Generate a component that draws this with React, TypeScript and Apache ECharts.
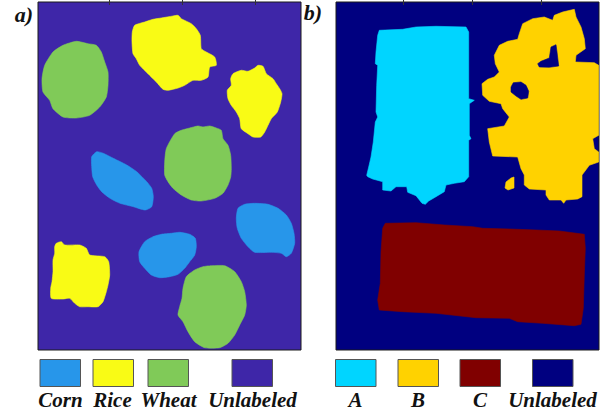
import React, { useEffect, useRef } from "react";
import * as echarts from "echarts";

type Pt = [number, number];

// Panel extents (in panel pixel units, origin top-left)
const panelW = 263;
const panelH = 348;
const ticksA = [71.7, 144.3, 217.7];
const ticksB = [67, 136.4, 205];

// Panel a) shapes
const corn1: Pt[] = [[53.7,154.7],[58.7,149.7],[65.3,151.3],[75.3,156.3],[88.7,163],[98.7,169.7],[108.7,179.7],[113.7,186.3],[115.3,194.7],[113.7,204.7],[107,208],[95.3,204.7],[82,201.3],[72,196.3],[63.7,189.7],[58.7,183],[54.7,174.7],[53.7,164.7]];
const corn2: Pt[] = [[106.7,239.7],[115,234.7],[123.3,232.3],[133.3,231.3],[141.7,230.3],[151.7,232.3],[157.3,236.3],[158.3,244.7],[156.7,253],[151.7,259.7],[146.7,266.3],[140,272.3],[131.7,274.7],[121.7,275.7],[113.3,273],[106.7,266.3],[101.7,259.7],[101,249.7]];
const corn3: Pt[] = [[200,206.3],[206.7,202.3],[216.7,201.3],[230,202.3],[240,206.3],[248.3,213],[253.3,221.3],[256,231.3],[256.7,241.3],[253.3,251.3],[248.3,254.7],[243.3,251.3],[233.3,250.3],[216.7,250.3],[210,244.7],[203.3,236.3],[199.3,226.3],[198.3,216.3]];
const rice1: Pt[] = [[96.7,23.3],[106.7,20],[115,17.3],[123.3,16],[135,14],[140,13.3],[143.3,16.7],[153.3,21.7],[158.3,26.7],[162.3,33.3],[163.3,46.7],[168.3,50],[176.7,55],[178.3,63.3],[171.7,65],[170,75],[163.3,78.3],[155,78.3],[146.7,83.3],[140,86],[130,88.3],[125,87.3],[118.3,80],[110,71.7],[101.7,63.3],[98.3,56.7],[95,51.7],[94,40],[94.3,30]];
const rice2: Pt[] = [[195,71.7],[203.3,68.3],[210,69.3],[216.7,66],[220,63.3],[225,64.3],[228.3,71.7],[235,76.7],[238.3,81.7],[241.7,86.7],[244,91.7],[242.7,100],[239.3,110],[233.3,116.7],[230,123.3],[226.7,130],[222.7,135],[215,135],[210,131.7],[203.3,126.7],[201.7,116.7],[198.3,110],[193.3,103.3],[190,96.7],[189.3,88.3],[193.3,83.3],[192.7,76.7]];
const rice3: Pt[] = [[18.3,241.3],[23.3,239.7],[26.7,243],[41.7,243],[48.3,246.3],[51.7,253],[66.7,254.7],[70.7,259.7],[71.7,273],[70,283],[68.3,289.7],[65,299.7],[60,304.7],[50,304.7],[41.7,304.7],[36.7,301.3],[31.7,296.3],[25,297],[13.3,296.3],[12.7,286.3],[14,279.7],[15,269.7],[15,258],[16.7,251.3],[16.7,244.7]];
const wheat1: Pt[] = [[38.3,39.3],[25,43.3],[15,50],[6.7,63.3],[4,76.7],[5,90],[11.7,98.3],[15,106.7],[25,115],[38.3,116],[51.7,113.3],[61.7,105],[68.3,95],[70,83.3],[70,70],[66.7,60],[63.3,50],[58.3,43.3],[50,41.7]];
const wheat2: Pt[] = [[136.7,131.7],[143.3,128.3],[151.7,126],[160,124],[165,125],[171.7,124],[178.3,126],[183.3,128.3],[185,136.7],[190,143.3],[192.7,153.3],[193.3,166.7],[192.7,175],[190,183],[185,191.3],[176.7,196.3],[163.3,199],[153.3,198],[143.3,193],[135,186.3],[130,179.7],[126.7,173],[126.7,160],[128.3,146.7]];
const wheat3: Pt[] = [[148.3,274.7],[156.7,268],[165,264.7],[173.3,263.7],[186.7,263.7],[196.7,269.7],[203.3,279.7],[206.7,289.7],[208.3,303],[206.7,313],[201.7,323],[196.7,333],[190,341.3],[181.7,345.7],[166.7,345.7],[156.7,339.7],[150,329.7],[145,319.7],[140,313],[141.7,304.7],[144,296.3],[145,286.3]];

// Panel b) shapes
const classA: Pt[] = [[43.3,28.3],[66.7,27.3],[80,25],[100,24.3],[130,25],[132.7,30],[132.7,96.7],[138.3,98.3],[133.3,101.7],[133.3,133.3],[135,136.7],[132.7,138.3],[132.7,174.7],[128.3,179.7],[118.3,181.3],[110,183],[108.3,189.7],[100,194.7],[92.7,199],[89.3,202.3],[86,201.3],[80,193.7],[71.7,190.3],[70.7,184.7],[60,184.7],[55,189],[46.7,188],[46.7,179.7],[36.7,177],[31.7,174.7],[30.7,173.3],[32.7,165],[35,155],[37.3,140],[39.3,120],[41.7,115],[40,110],[40.7,83.3],[41.7,63.3],[39.3,61.7],[40,50],[41.7,33.3]];
const classB: Pt[] = [[159.3,61.7],[158.3,53.3],[163.3,43.3],[171.7,39.3],[181.7,37.3],[183.3,31.7],[186.7,21.7],[196.7,16.7],[208.3,15],[216.7,18.3],[218.3,13.3],[226.7,10],[238.3,7.3],[240,15],[245,25],[248.3,36.7],[249.3,46.7],[240,53.3],[239.3,60],[258.3,60.7],[262.7,63.3],[262.7,133.3],[256.7,136.7],[258.3,146.7],[262.7,150],[262.7,160],[253.3,163.3],[248.3,170],[246,173],[246,194.7],[241.7,197],[230,198],[227.7,201.3],[225,198],[213.3,198],[210,193],[210,188],[193.3,187],[188.3,183],[188.3,173],[185,166.7],[181.7,155],[156.7,154],[153.3,140],[151.7,126.7],[168.3,124],[173.3,115],[166.7,106.7],[165,101.7],[153.3,99.3],[146.7,93.3],[146,81.7],[151.7,77.3],[158.3,75],[163.3,70]];
const classB2: Pt[] = [[170,180],[175,176],[178,175],[178,186],[172,188],[169,186]];
const holeB1: Pt[] = [[201.7,61.7],[205,59.3],[213.3,56],[215,45],[220,42.7],[221,50],[222.7,64],[213.3,65.3],[203.3,65]];
const holeB2: Pt[] = [[175,85],[177.3,80.7],[185,80],[190,83.3],[192.7,89.3],[191.7,96],[185,97.3],[180,94],[175,90]];
const classC: Pt[] = [[49.3,221.3],[80,220.7],[108.3,223],[136.7,224.7],[146.7,226.3],[173.3,227],[200,228],[223.3,229],[248.3,232.3],[249.3,246.3],[248.3,273],[247.3,306.3],[245,322.3],[238.3,323.7],[206.7,321.3],[181.7,319.7],[173.3,316.3],[140,315.7],[100,311.3],[66.7,309.7],[43.3,308],[41.7,298],[44.3,281.3],[45,249.7],[46.7,226.3]];

const labelsA = ["Corn", "Rice", "Wheat", "Unlabeled"];
const colorsA = ["#2796EA", "#F9FB15", "#80CA58", "#3E26A8"];
const labelsB = ["A", "B", "C", "Unlabeled"];
const colorsB = ["#00D5FF", "#FFD200", "#800000", "#000080"];

const shapesA: Pt[][][] = [[corn1, corn2, corn3], [rice1, rice2, rice3], [wheat1, wheat2, wheat3]];
const shapesB: Pt[][][] = [[classA], [classB, classB2], [classC], [holeB1, holeB2]];

// legend layout
const boxXA = [40, 93, 148, 232];
const textXA = [60.5, 112.5, 168.5, 252.5];
const boxXB = [335.5, 398, 460, 532.5];
const textXB = [355.5, 418, 480, 552.5];

function polySeries(shapes: Pt[][], color: string, xi: number, yi: number, smooth: number) {
  return {
    type: "custom",
    xAxisIndex: xi,
    yAxisIndex: yi,
    clip: true,
    data: shapes.map((s) => [s[0][0], s[0][1]]),
    renderItem: (params: any, api: any) => {
      const pts = shapes[params.dataIndex].map((p) => api.coord(p));
      return {
        type: "polygon",
        shape: { points: pts, smooth },
        style: { fill: color, stroke: color, lineWidth: 0.6 },
      };
    },
  };
}

function xAxes(grid: number, ticks: number[]) {
  return ["bottom", "top"].map((pos) => ({
    type: "value",
    gridIndex: grid,
    position: pos,
    min: 0,
    max: panelW,
    axisLine: { show: false },
    axisLabel: { show: false },
    splitLine: { show: false },
    axisTick: {
      show: true,
      inside: true,
      length: 3,
      customValues: ticks,
      lineStyle: { color: "#333", width: 1 },
    },
  }));
}

const font = 'italic bold 21px "Liberation Serif", serif';

export default function App() {
  const ref = useRef<HTMLDivElement>(null);
  useEffect(() => {
    if (!ref.current) return;
    const chart = echarts.init(ref.current, undefined, { renderer: "svg" });
    const series: any[] = [];
    shapesA.forEach((sh, i) => series.push(polySeries(sh, colorsA[i], 0, 0, 0.2)));
    shapesB.forEach((sh, i) => series.push(polySeries(sh, colorsB[i], 2, 1, 0)));

    const graphic: any[] = [];
    const addLegend = (bx: number[], tx: number[], cols: string[], labs: string[]) => {
      bx.forEach((x, i) => {
        graphic.push({
          type: "rect",
          shape: { x: x, y: 359.5, width: 40.5, height: 27 },
          style: { fill: cols[i], stroke: "#555", lineWidth: 1 },
        });
        graphic.push({
          type: "text",
          style: {
            text: labs[i],
            x: tx[i],
            y: 400,
            font,
            fill: "#111",
            align: "center",
            verticalAlign: "middle",
            textAlign: "center",
            textVerticalAlign: "middle",
          },
        });
      });
    };
    addLegend(boxXA, textXA, colorsA, labelsA);
    addLegend(boxXB, textXB, colorsB, labelsB);
    graphic.push({
      type: "text",
      style: { text: "a)", x: 24, y: 14, font: 'italic bold 22px "Liberation Serif", serif', fill: "#111", align: "center", verticalAlign: "middle", textAlign: "center", textVerticalAlign: "middle" },
    });
    graphic.push({
      type: "text",
      style: { text: "b)", x: 313, y: 12, font: 'italic bold 22px "Liberation Serif", serif', fill: "#111", align: "center", verticalAlign: "middle", textAlign: "center", textVerticalAlign: "middle" },
    });

    chart.setOption({
      animation: false,
      grid: [
        { left: 38, top: 2, width: panelW, height: panelH, show: true, backgroundColor: colorsA[3], borderColor: "#1a1a1a", borderWidth: 1 },
        { left: 336, top: 2, width: panelW, height: panelH, show: true, backgroundColor: colorsB[3], borderColor: "#1a1a1a", borderWidth: 1 },
      ],
      xAxis: [...xAxes(0, ticksA), ...xAxes(1, ticksB)],
      yAxis: [0, 1].map((g) => ({
        type: "value",
        gridIndex: g,
        inverse: true,
        min: 0,
        max: panelH,
        axisLine: { show: false },
        axisLabel: { show: false },
        axisTick: { show: false },
        splitLine: { show: false },
      })),
      series,
      graphic,
    });
    return () => chart.dispose();
  }, []);
  return (
    <div
      ref={ref}
      style={{ position: "fixed", left: 0, top: 0, width: 610, height: 416, background: "#fff" }}
    />
  );
}
